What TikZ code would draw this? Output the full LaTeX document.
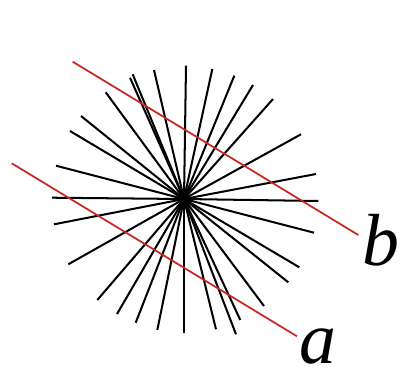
\documentclass[tikz,border=0pt]{standalone}
\usepackage{fontspec}
\setmainfont{Liberation Serif}
\definecolor{rouge}{RGB}{200,40,35}
\tikzset{
  rayon/.style={line width=1.15pt},
  droite/.style={rouge,line width=1pt},
  lettre/.style={inner sep=0pt,font=\fontsize{42}{42}\selectfont\itshape}
}
\begin{document}
\begin{tikzpicture}[x=0.02cm,y=-0.02cm]
	\useasboundingbox (0,0) rectangle (404,375);
	%Centre du faisceau
	\coordinate (O) at (184,199);
	%Rayons
	\foreach \p in {(186,65.7),(154,70),(212.3,69),(132.7,74.3),(130,77.7),
		(234.3,75.7),(253,85),(105.7,92.3),(273,99),(81,116),(70,131),
		(301,134.3),(56,165.7),(316,174),(52,197.7),(318.3,201),(54,224.3),
		(314,232.7),(68.3,264.3),(299.3,267.3),(97.3,300),(288.3,282.3),
		(117,314),(264,306),(135.7,322.7),(240.3,320),(157.3,330),
		(216,329.3),(236,334.3),(184,332.7)}
		\draw[rayon] (O) -- \p;
	\fill (O) circle (4.5);
	%Droites a et b
	\coordinate (B0) at (72.7,61.7);
	\coordinate (B1) at (358.3,235);
	\coordinate (A0) at (11.7,163.3);
	\coordinate (A1) at (297,336.3);
	\draw[droite] (B0) -- (B1);
	\draw[droite] (A0) -- (A1);
	%Noms
	\node[lettre] (b) at (381,240) {b};
	\node[lettre] (a) at (318,347) {a};
\end{tikzpicture}
\end{document}
